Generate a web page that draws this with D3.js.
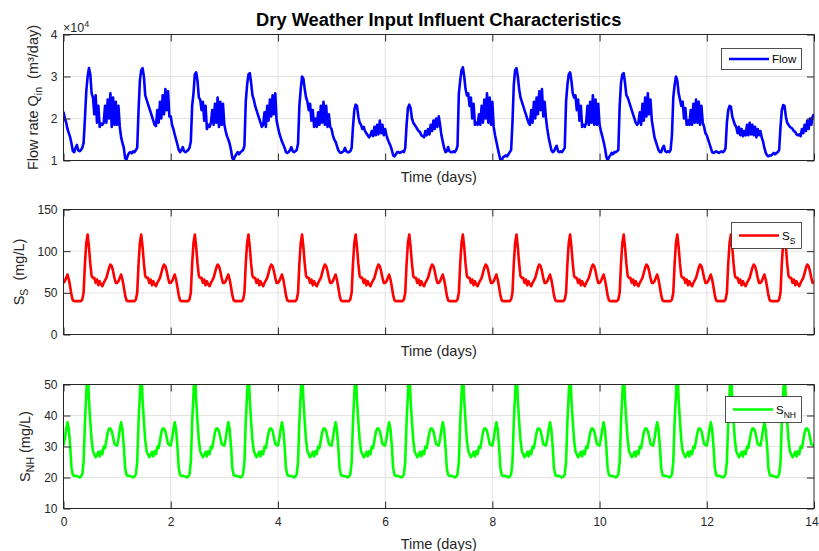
<!DOCTYPE html>
<html>
<head>
<meta charset="utf-8">
<script src="https://cdn.jsdelivr.net/npm/d3@7"></script>
<style>
  body { margin: 0; background: #fff; }
  text { font-family: "Liberation Sans", Arial, Helvetica, sans-serif; }
</style>
</head>
<body>
<svg id="chart" width="819" height="551"></svg>
<script>
// Sampling interval of the influent records (days)
const timeStepDays = 0.025;

const xTicks = [0, 2, 4, 6, 8, 10, 12, 14];
const flowTicks = [1, 2, 3, 4];
const ssTicks = [0, 50, 100, 150];
const snhTicks = [10, 20, 30, 40, 50];

// Influent flow rate, units of 10^4 m3/day, one row per day (40 samples per day)
const flowRate = [
  2.16,2.0,1.9,1.75,1.65,1.55,1.4,1.22,1.2,1.3,1.37,1.24,1.22,1.25,1.3,1.42,2.0,2.65,3.0,3.2,3.05,2.6,2.5,2.1,2.55,1.9,2.3,1.8,1.88,1.85,1.9,2.3,1.9,2.45,2.0,2.6,1.8,2.5,1.85,2.4,
  1.85,2.3,1.8,1.55,1.42,1.3,1.05,1.02,1.12,1.18,1.2,1.17,1.22,1.2,1.25,1.3,2.2,2.9,3.15,3.2,3.0,2.55,2.45,2.35,2.25,2.15,2.05,1.95,1.85,1.82,2.2,1.9,2.4,2.0,2.55,2.1,2.7,2.2,2.65,2.05,
  2.05,1.85,1.75,1.62,1.5,1.38,1.25,1.2,1.25,1.32,1.22,1.2,1.22,1.25,1.3,1.45,2.3,2.6,3.05,3.1,2.9,2.5,2.45,2.2,2.4,1.95,2.3,1.75,1.85,1.8,1.9,2.2,1.85,2.35,1.9,2.5,1.8,2.4,1.85,2.35,
  1.85,1.7,1.58,1.5,1.4,1.25,1.05,1.02,1.1,1.15,1.2,1.15,1.2,1.22,1.25,1.35,2.4,2.8,3.05,3.08,2.85,2.55,2.45,2.3,2.2,2.1,2.0,1.9,1.8,1.85,2.15,1.8,2.3,1.95,2.45,2.05,2.55,2.1,2.6,1.95,
  1.8,1.65,1.55,1.45,1.38,1.3,1.2,1.18,1.2,1.25,1.32,1.22,1.2,1.22,1.25,1.4,2.3,2.7,3.0,2.95,2.7,2.5,2.4,2.2,2.35,1.95,2.2,1.8,2.0,1.8,2.15,1.85,2.3,1.9,2.4,1.85,2.3,1.8,2.1,1.8,
  1.75,1.6,1.5,1.45,1.35,1.25,1.2,1.18,1.2,1.22,1.3,1.22,1.2,1.2,1.22,1.3,1.8,2.2,2.33,2.3,2.05,1.9,1.85,1.75,1.8,1.7,1.65,1.6,1.55,1.6,1.7,1.58,1.8,1.6,1.85,1.62,1.95,1.65,1.85,1.6,
  1.75,1.6,1.5,1.42,1.35,1.25,1.12,1.1,1.15,1.2,1.2,1.18,1.2,1.22,1.2,1.3,1.85,2.25,2.33,2.25,2.0,1.9,1.85,1.8,1.75,1.7,1.68,1.6,1.58,1.55,1.7,1.6,1.75,1.62,1.85,1.7,1.95,1.75,2.0,1.8,
  2.05,1.85,1.6,1.45,1.3,1.2,1.22,1.32,1.22,1.2,1.2,1.22,1.2,1.25,1.35,2.6,2.9,3.15,3.22,3.0,2.7,2.55,2.6,2.3,2.5,2.0,2.35,1.85,1.9,1.85,2.1,1.85,2.3,1.9,2.45,2.0,2.6,1.9,2.5,1.85,
  2.4,1.8,1.6,1.45,1.3,1.15,1.02,1.0,1.08,1.1,1.12,1.1,1.15,1.2,1.25,1.9,2.8,3.15,3.2,3.0,2.7,2.5,2.4,2.3,2.2,2.1,2.0,1.9,1.85,2.2,1.9,2.4,2.0,2.5,2.1,2.65,2.2,2.7,2.05,2.4,
  2.0,1.75,1.55,1.4,1.25,1.2,1.22,1.3,1.35,1.22,1.2,1.22,1.2,1.25,1.3,2.4,2.8,3.05,3.1,2.9,2.6,2.5,2.55,2.2,2.45,1.95,2.3,1.8,1.85,1.8,1.9,2.3,1.85,2.4,1.9,2.55,1.85,2.45,1.85,2.35,
  1.85,1.7,1.58,1.45,1.3,1.1,1.0,1.08,1.12,1.18,1.15,1.2,1.2,1.22,1.25,2.3,2.85,3.05,3.08,2.85,2.55,2.5,2.4,2.3,2.2,2.1,2.0,1.9,1.85,1.9,2.15,1.85,2.35,1.95,2.5,2.05,2.6,2.1,2.45,1.95,
  1.75,1.55,1.45,1.35,1.25,1.2,1.2,1.3,1.35,1.22,1.2,1.22,1.2,1.25,1.6,2.5,2.8,3.0,2.9,2.6,2.45,2.3,2.4,2.0,2.25,1.85,1.95,1.85,2.2,1.85,2.35,1.9,2.45,1.9,2.4,1.85,2.3,1.9,1.8,1.65,
  1.6,1.5,1.4,1.3,1.2,1.18,1.2,1.22,1.2,1.18,1.2,1.22,1.2,1.22,1.3,1.9,2.2,2.3,2.28,2.05,1.95,1.85,1.8,1.65,1.8,1.6,1.75,1.58,1.7,1.6,1.85,1.6,1.9,1.62,1.85,1.6,1.8,1.55,1.75,1.6,
  1.7,1.55,1.45,1.3,1.18,1.12,1.1,1.12,1.12,1.15,1.18,1.15,1.18,1.2,1.25,1.8,2.2,2.32,2.3,2.05,1.9,1.85,1.8,1.78,1.75,1.7,1.68,1.62,1.6,1.62,1.58,1.75,1.65,1.85,1.7,1.95,1.75,2.0,1.85,2.05,
  2.1
];

// Readily biodegradable substrate S_S (mg/L), one row per day
const ssConc = [
  62,64,68,72,66,57,47,41,40,40,40,40,40,40,42,50,85,110,120,105,85,70,68,68,62,66,59,64,60,58,62,65,68,74,80,84,82,76,68,62,
  62,64,68,72,66,57,47,41,40,40,40,40,40,40,42,50,85,110,120,105,85,70,68,68,62,66,59,64,60,58,62,65,68,74,80,84,82,76,68,62,
  62,64,68,72,66,57,47,41,40,40,40,40,40,40,42,50,85,110,120,105,85,70,68,68,62,66,59,64,60,58,62,65,68,74,80,84,82,76,68,62,
  62,64,68,72,66,57,47,41,40,40,40,40,40,40,42,50,85,110,120,105,85,70,68,68,62,66,59,64,60,58,62,65,68,74,80,84,82,76,68,62,
  62,64,68,72,66,57,47,41,40,40,40,40,40,40,42,50,85,110,120,105,85,70,68,68,62,66,59,64,60,58,62,65,68,74,80,84,82,76,68,62,
  62,64,68,72,66,57,47,41,40,40,40,40,40,40,42,50,85,110,120,105,85,70,68,68,62,66,59,64,60,58,62,65,68,74,80,84,82,76,68,62,
  62,64,68,72,66,57,47,41,40,40,40,40,40,40,42,50,85,110,120,105,85,70,68,68,62,66,59,64,60,58,62,65,68,74,80,84,82,76,68,62,
  62,64,68,72,66,57,47,41,40,40,40,40,40,40,42,50,85,110,120,105,85,70,68,68,62,66,59,64,60,58,62,65,68,74,80,84,82,76,68,62,
  62,64,68,72,66,57,47,41,40,40,40,40,40,40,42,50,85,110,120,105,85,70,68,68,62,66,59,64,60,58,62,65,68,74,80,84,82,76,68,62,
  62,64,68,72,66,57,47,41,40,40,40,40,40,40,42,50,85,110,120,105,85,70,68,68,62,66,59,64,60,58,62,65,68,74,80,84,82,76,68,62,
  62,64,68,72,66,57,47,41,40,40,40,40,40,40,42,50,85,110,120,105,85,70,68,68,62,66,59,64,60,58,62,65,68,74,80,84,82,76,68,62,
  62,64,68,72,66,57,47,41,40,40,40,40,40,40,42,50,85,110,120,105,85,70,68,68,62,66,59,64,60,58,62,65,68,74,80,84,82,76,68,62,
  62,64,68,72,66,57,47,41,40,40,40,40,40,40,42,50,85,110,120,105,85,70,68,68,62,66,59,64,60,58,62,65,68,74,80,84,82,76,68,62,
  62,64,68,72,66,57,47,41,40,40,40,40,40,40,42,50,85,110,120,105,85,70,68,68,62,66,59,64,60,58,62,65,68,74,80,84,82,76,68,62,
  64
];

// Ammonium nitrogen S_NH (mg/L), one row per day
const snhConc = [
  30.3,32.5,35.5,37.8,35.5,30,23,20.8,20.5,20.6,20.4,20.3,20,20.3,21,25,38,47,56,45,38,32,28.5,27.5,26.5,27.2,28.3,26.8,28.5,27.5,30,29.5,32,34.5,35.8,35.8,35,33,30.8,30.5,
  30.3,32.5,35.5,37.8,35.5,30,23,20.8,20.5,20.6,20.4,20.3,20,20.3,21,25,38,47,56,45,38,32,28.5,27.5,26.5,27.2,28.3,26.8,28.5,27.5,30,29.5,32,34.5,35.8,35.8,35,33,30.8,30.5,
  30.3,32.5,35.5,37.8,35.5,30,23,20.8,20.5,20.6,20.4,20.3,20,20.3,21,25,38,47,56,45,38,32,28.5,27.5,26.5,27.2,28.3,26.8,28.5,27.5,30,29.5,32,34.5,35.8,35.8,35,33,30.8,30.5,
  30.3,32.5,35.5,37.8,35.5,30,23,20.8,20.5,20.6,20.4,20.3,20,20.3,21,25,38,47,56,45,38,32,28.5,27.5,26.5,27.2,28.3,26.8,28.5,27.5,30,29.5,32,34.5,35.8,35.8,35,33,30.8,30.5,
  30.3,32.5,35.5,37.8,35.5,30,23,20.8,20.5,20.6,20.4,20.3,20,20.3,21,25,38,47,56,45,38,32,28.5,27.5,26.5,27.2,28.3,26.8,28.5,27.5,30,29.5,32,34.5,35.8,35.8,35,33,30.8,30.5,
  30.3,32.5,35.5,37.8,35.5,30,23,20.8,20.5,20.6,20.4,20.3,20,20.3,21,25,38,47,56,45,38,32,28.5,27.5,26.5,27.2,28.3,26.8,28.5,27.5,30,29.5,32,34.5,35.8,35.8,35,33,30.8,30.5,
  30.3,32.5,35.5,37.8,35.5,30,23,20.8,20.5,20.6,20.4,20.3,20,20.3,21,25,38,47,56,45,38,32,28.5,27.5,26.5,27.2,28.3,26.8,28.5,27.5,30,29.5,32,34.5,35.8,35.8,35,33,30.8,30.5,
  30.3,32.5,35.5,37.8,35.5,30,23,20.8,20.5,20.6,20.4,20.3,20,20.3,21,25,38,47,56,45,38,32,28.5,27.5,26.5,27.2,28.3,26.8,28.5,27.5,30,29.5,32,34.5,35.8,35.8,35,33,30.8,30.5,
  30.3,32.5,35.5,37.8,35.5,30,23,20.8,20.5,20.6,20.4,20.3,20,20.3,21,25,38,47,56,45,38,32,28.5,27.5,26.5,27.2,28.3,26.8,28.5,27.5,30,29.5,32,34.5,35.8,35.8,35,33,30.8,30.5,
  30.3,32.5,35.5,37.8,35.5,30,23,20.8,20.5,20.6,20.4,20.3,20,20.3,21,25,38,47,56,45,38,32,28.5,27.5,26.5,27.2,28.3,26.8,28.5,27.5,30,29.5,32,34.5,35.8,35.8,35,33,30.8,30.5,
  30.3,32.5,35.5,37.8,35.5,30,23,20.8,20.5,20.6,20.4,20.3,20,20.3,21,25,38,47,56,45,38,32,28.5,27.5,26.5,27.2,28.3,26.8,28.5,27.5,30,29.5,32,34.5,35.8,35.8,35,33,30.8,30.5,
  30.3,32.5,35.5,37.8,35.5,30,23,20.8,20.5,20.6,20.4,20.3,20,20.3,21,25,38,47,56,45,38,32,28.5,27.5,26.5,27.2,28.3,26.8,28.5,27.5,30,29.5,32,34.5,35.8,35.8,35,33,30.8,30.5,
  30.3,32.5,35.5,37.8,35.5,30,23,20.8,20.5,20.6,20.4,20.3,20,20.3,21,25,38,47,56,45,38,32,28.5,27.5,26.5,27.2,28.3,26.8,28.5,27.5,30,29.5,32,34.5,35.8,35.8,35,33,30.8,30.5,
  30.3,32.5,35.5,37.8,35.5,30,23,20.8,20.5,20.6,20.4,20.3,20,20.3,21,25,38,47,56,45,38,32,28.5,27.5,26.5,27.2,28.3,26.8,28.5,27.5,30,29.5,32,34.5,35.8,35.8,35,33,30.8,30.5,
  30.5
];

const svg = d3.select("#chart");
const axisColor = "#262626";
const gridColor = "#e3e3e3";
const plotLeft = 63.5, plotRight = 814;
const tickLen = 7;

const x = d3.scaleLinear().domain([0, 14]).range([plotLeft, plotRight]);

const panels = [
  { key: "flow", values: flowRate, domain: [1, 4], ticks: flowTicks, top: 34.5, bottom: 160.5,
    color: "#0000ff", xLabels: false, legend: { x: 721, y: 48, w: 80, h: 21 } },
  { key: "ss", values: ssConc, domain: [0, 150], ticks: ssTicks, top: 209.5, bottom: 334.5,
    color: "#ff0000", xLabels: false, legend: { x: 731, y: 222, w: 70, h: 26 } },
  { key: "snh", values: snhConc, domain: [10, 50], ticks: snhTicks, top: 384.5, bottom: 508.5,
    color: "#00ff00", xLabels: true, legend: { x: 725, y: 396, w: 76, h: 26 } }
];

const defs = svg.append("defs");

panels.forEach(p => {
  const y = d3.scaleLinear().domain(p.domain).range([p.bottom, p.top]);
  const g = svg.append("g").attr("class", "panel-" + p.key);

  defs.append("clipPath").attr("id", "clip-" + p.key)
    .append("rect")
    .attr("x", plotLeft).attr("y", p.top)
    .attr("width", plotRight - plotLeft).attr("height", p.bottom - p.top);

  // grid
  g.append("g").selectAll("line.gx").data(xTicks.slice(1, -1)).join("line")
    .attr("x1", d => x(d)).attr("x2", d => x(d))
    .attr("y1", p.top).attr("y2", p.bottom)
    .attr("stroke", gridColor).attr("stroke-width", 1);
  g.append("g").selectAll("line.gy").data(p.ticks.slice(1, -1)).join("line")
    .attr("x1", plotLeft).attr("x2", plotRight)
    .attr("y1", d => y(d)).attr("y2", d => y(d))
    .attr("stroke", gridColor).attr("stroke-width", 1);

  // series line
  const line = d3.line()
    .x((d, i) => x(i * timeStepDays))
    .y(d => y(d));
  g.append("path")
    .datum(p.values)
    .attr("clip-path", "url(#clip-" + p.key + ")")
    .attr("fill", "none")
    .attr("stroke", p.color)
    .attr("stroke-width", 2.6)
    .attr("stroke-linejoin", "round")
    .attr("d", line);

  // axes with inward ticks on all four sides
  const styleAxis = sel => {
    sel.select(".domain").remove();
    sel.selectAll(".tick line").attr("stroke", axisColor);
    sel.selectAll(".tick text").attr("fill", axisColor).style("font-size", "12px")
      .style("font-family", '"Liberation Sans", Arial, Helvetica, sans-serif');
  };
  g.append("g").attr("transform", `translate(${plotLeft},0)`)
    .call(d3.axisLeft(y).tickValues(p.ticks).tickSize(-tickLen).tickPadding(6).tickFormat(d3.format("d")))
    .call(styleAxis);
  g.append("g").attr("transform", `translate(${plotRight},0)`)
    .call(d3.axisRight(y).tickValues(p.ticks).tickSize(-tickLen).tickFormat(""))
    .call(styleAxis);
  g.append("g").attr("transform", `translate(0,${p.top})`)
    .call(d3.axisTop(x).tickValues(xTicks).tickSize(-tickLen).tickFormat(""))
    .call(styleAxis);
  const bottomAxis = g.append("g").attr("transform", `translate(0,${p.bottom})`)
    .call(d3.axisBottom(x).tickValues(xTicks).tickSize(-tickLen).tickPadding(9)
      .tickFormat(p.xLabels ? d3.format("d") : ""))
    .call(styleAxis);
  // keep the last label inside the canvas
  bottomAxis.selectAll(".tick text").filter(d => d === 14).attr("dx", -2.5);

  // axes box
  g.append("rect")
    .attr("x", plotLeft).attr("y", p.top)
    .attr("width", plotRight - plotLeft).attr("height", p.bottom - p.top)
    .attr("fill", "none").attr("stroke", axisColor).attr("stroke-width", 1);

  // x label
  g.append("text")
    .attr("x", (plotLeft + plotRight) / 2)
    .attr("y", p.bottom + (p.xLabels ? 40 : 21))
    .attr("text-anchor", "middle")
    .attr("fill", axisColor)
    .style("font-size", "14.5px")
    .text("Time (days)");

  // legend
  const L = p.legend;
  const lg = g.append("g").attr("class", "legend");
  lg.append("rect")
    .attr("x", L.x + 0.5).attr("y", L.y + 0.5).attr("width", L.w).attr("height", L.h)
    .attr("fill", "#fff").attr("stroke", axisColor).attr("stroke-width", 0.8);
  const ly = L.y + L.h / 2 + 0.5;
  lg.append("line")
    .attr("x1", L.x + 8).attr("x2", L.x + 48)
    .attr("y1", ly).attr("y2", ly)
    .attr("stroke", p.color).attr("stroke-width", 2.6);
  p.legendText = lg.append("text")
    .attr("x", L.x + 51)
    .attr("y", ly + 4)
    .attr("fill", "#000")
    .style("font-size", "11.5px");
});

// legend entries
panels[0].legendText.text("Flow");
panels[1].legendText.text("S").append("tspan").attr("dy", 4).style("font-size", "8.5px").text("S");
panels[2].legendText.text("S").append("tspan").attr("dy", 4).style("font-size", "8.5px").text("NH");

// y labels
function yLabel(cx, cy, parts) {
  const t = svg.append("text")
    .attr("transform", `translate(${cx},${cy}) rotate(-90)`)
    .attr("text-anchor", "middle")
    .attr("fill", axisColor)
    .style("font-size", "14.5px");
  parts(t);
}
yLabel(37.5, 97.5, t => {
  t.append("tspan").text("Flow rate Q");
  t.append("tspan").attr("dy", 4).style("font-size", "10.5px").text("in");
  t.append("tspan").attr("dy", -4).text("\u00a0\u00a0(m³/day)");
});
yLabel(24, 272, t => {
  t.append("tspan").text("S");
  t.append("tspan").attr("dy", 4).style("font-size", "10.5px").text("S");
  t.append("tspan").attr("dy", -4).text("\u00a0\u00a0(mg/L)");
});
yLabel(30, 446.5, t => {
  t.append("tspan").text("S");
  t.append("tspan").attr("dy", 4).style("font-size", "10.5px").text("NH");
  t.append("tspan").attr("dy", -4).text("\u00a0(mg/L)");
});

// exponent marker of the flow axis
const expo = svg.append("text")
  .attr("x", 63).attr("y", 32)
  .attr("fill", axisColor)
  .style("font-size", "12.5px")
  .text("×10");
expo.append("tspan").attr("dy", -5.5).style("font-size", "9px").text("4");

// title
svg.append("text")
  .attr("x", (plotLeft + plotRight) / 2)
  .attr("y", 26)
  .attr("text-anchor", "middle")
  .attr("fill", "#000")
  .style("font-size", "18.3px")
  .style("font-weight", "bold")
  .text("Dry Weather Input Influent Characteristics");
</script>
</body>
</html>
